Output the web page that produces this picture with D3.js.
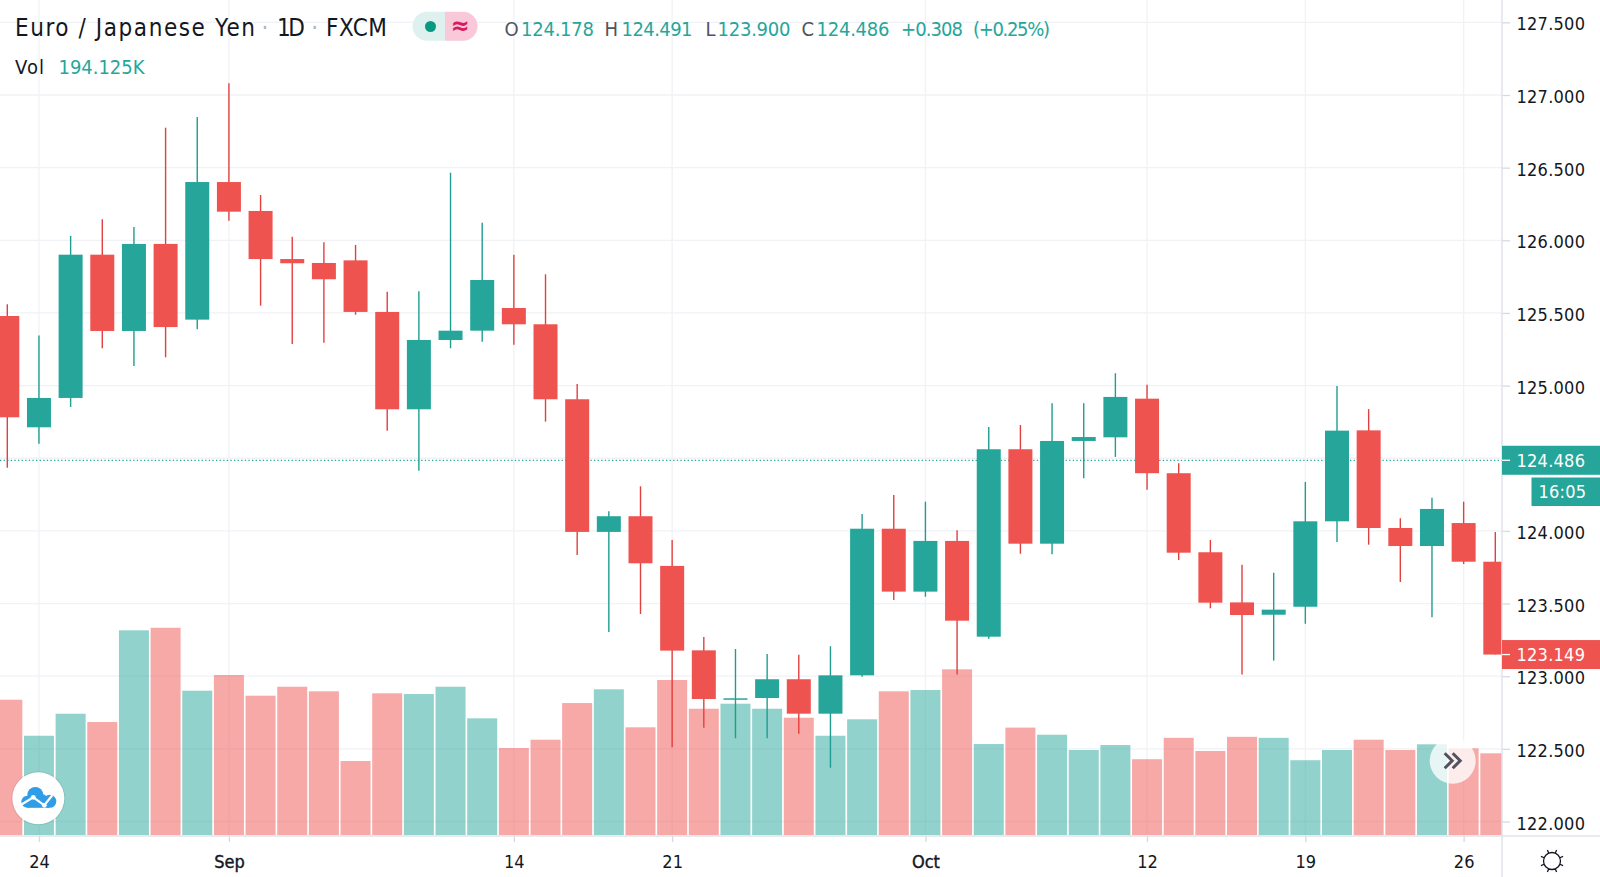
<!DOCTYPE html>
<html>
<head>
<meta charset="utf-8">
<script src="https://cdn.jsdelivr.net/npm/d3@7"></script>
<style>
  html, body { margin: 0; background: #fff; }
  svg { display: block; font-family: "DejaVu Sans Condensed", "DejaVu Sans", sans-serif; font-stretch: condensed; }
</style>
</head>
<body>
<svg id="chart"></svg>
<script>
// daily EUR/JPY candles, Aug 21 -> Oct 27
const opens = [125.479,124.713,124.915,125.901,125.376,125.975,125.454,126.401,126.202,125.871,125.844,125.862,125.507,124.837,125.314,125.378,125.534,125.422,124.906,123.993,124.101,123.759,123.178,122.841,122.850,122.979,122.742,123.006,124.015,123.582,123.931,123.272,124.562,123.912,124.619,124.644,124.910,124.397,123.853,123.508,123.423,123.478,124.066,124.692,124.020,123.896,124.054,123.788];
const highs = [125.560,125.344,126.030,126.145,126.092,126.775,126.849,127.081,126.312,126.025,125.986,125.968,125.646,125.649,126.465,126.121,125.901,125.766,125.011,124.135,124.307,123.938,123.270,123.187,123.153,123.148,123.206,124.116,124.247,124.201,124.004,124.715,124.729,124.878,124.878,125.085,125.006,124.465,123.938,123.767,123.712,124.337,124.997,124.838,124.087,124.229,124.201,123.993];
const lows = [124.435,124.600,124.853,125.257,125.135,125.195,125.388,126.135,125.550,125.286,125.295,125.488,124.690,124.414,125.257,125.302,125.282,124.752,123.834,123.304,123.428,122.511,122.646,122.573,122.573,122.604,122.370,122.997,123.525,123.547,123.011,123.258,123.843,123.839,124.362,124.509,124.284,123.800,123.467,123.012,123.107,123.361,123.924,123.905,123.648,123.405,123.772,123.149];
const closes = [124.782,124.915,125.901,125.376,125.975,125.403,126.401,126.197,125.871,125.842,125.732,125.507,124.837,125.314,125.378,125.727,125.422,124.906,123.993,124.101,123.777,123.176,122.843,122.848,122.979,122.742,123.006,124.015,123.582,123.931,123.382,124.562,123.912,124.619,124.646,124.922,124.397,123.850,123.506,123.421,123.458,124.066,124.690,124.020,123.896,124.151,123.788,123.149];
const volumes = [321.5,235.9,288.2,268.5,486.4,492.5,342.9,380.2,331,352.4,341.4,175.8,336.7,335,352.4,277.3,206.7,226.4,313.6,346.2,255.9,368.3,300.1,312,300.1,278.7,235.9,274.9,341.4,344.5,393.7,216.2,255.2,238.3,202,213.8,180.1,230.9,199.6,233.3,230.9,177.7,202,226.4,202,215.5,206,194.125];

const priceTicks = [122,122.5,123,123.5,124,124.5,125,125.5,126,126.5,127,127.5];
const timeTickIdx = [1,7,16,21,29,36,41,46];
const timeTickLabels = ['24','Sep','14','21','Oct','12','19','26'];
const lastPrice = 124.486;
const lastClose = 123.149;

const GREEN = '#26a69a', RED = '#ef5350';
const FONT = '"DejaVu Sans Condensed", "DejaVu Sans", sans-serif';
const width = 1600, height = 877, axisX = 1502, axisY = 836;

const svg = d3.select('#chart').attr('width', width).attr('height', height);

const x = d3.scaleLinear().domain([0, 47]).range([7.3, 1495.3]);
const y = d3.scaleLinear().domain([122, 127]).range([821.5, 95]);
const yVol = d3.scaleLinear().domain([0, 500]).range([835, 624.6]);

svg.append('clipPath').attr('id', 'plot').append('rect')
  .attr('width', axisX).attr('height', axisY);

const plot = svg.append('g').attr('clip-path', 'url(#plot)');

// grid
plot.selectAll('.hgrid').data(priceTicks).enter().append('line')
  .attr('x1', 0).attr('x2', axisX)
  .attr('y1', d => y(d)).attr('y2', d => y(d))
  .attr('stroke', '#f0f2f6').attr('stroke-width', 1.3);
plot.selectAll('.vgrid').data(timeTickIdx).enter().append('line')
  .attr('x1', d => x(d)).attr('x2', d => x(d))
  .attr('y1', 0).attr('y2', axisY)
  .attr('stroke', '#f0f2f6').attr('stroke-width', 1.3);

const isUp = i => closes[i] >= opens[i];

// volume
plot.selectAll('.vol').data(volumes).enter().append('rect')
  .attr('x', (d, i) => x(i) - 15)
  .attr('width', 30)
  .attr('y', d => yVol(d))
  .attr('height', d => yVol(0) - yVol(d))
  .attr('fill', (d, i) => isUp(i) ? GREEN : RED)
  .attr('fill-opacity', 0.5);

// last price line
plot.append('line')
  .attr('x1', 0).attr('x2', axisX)
  .attr('y1', y(lastPrice)).attr('y2', y(lastPrice))
  .attr('stroke', GREEN).attr('stroke-width', 1.3)
  .attr('stroke-dasharray', '1.3 2.3');

// candles
const candles = plot.selectAll('.candle').data(opens).enter().append('g');
candles.append('line')
  .attr('x1', (d, i) => x(i)).attr('x2', (d, i) => x(i))
  .attr('y1', (d, i) => y(highs[i])).attr('y2', (d, i) => y(lows[i]))
  .attr('stroke', (d, i) => isUp(i) ? '#1f9d91' : '#e2403f')
  .attr('stroke-width', 1.4);
candles.append('rect')
  .attr('x', (d, i) => x(i) - 12)
  .attr('width', 24)
  .attr('y', (d, i) => y(Math.max(opens[i], closes[i])))
  .attr('height', (d, i) => Math.max(1.5, Math.abs(y(opens[i]) - y(closes[i]))))
  .attr('fill', (d, i) => isUp(i) ? GREEN : RED);

// axes
const yAxis = svg.append('g').attr('transform', `translate(${axisX},0)`)
  .call(d3.axisRight(y).tickValues(priceTicks).tickFormat(d3.format('.3f')).tickSize(8).tickPadding(6.5));
const xAxis = svg.append('g').attr('transform', `translate(0,${axisY})`)
  .call(d3.axisBottom(x).tickValues(timeTickIdx).tickFormat((d, i) => timeTickLabels[i]).tickSize(6).tickPadding(13));
[yAxis, xAxis].forEach(a => {
  a.select('.domain').remove();
  a.selectAll('.tick line').attr('stroke', '#d6d9e0').attr('stroke-width', 1.3);
  a.selectAll('.tick text').attr('fill', '#131722').attr('font-size', 18).attr('font-family', FONT);
});
yAxis.selectAll('.tick text').attr('dy', '.42em').attr('letter-spacing', 0.25);
// month names are a bit heavier than the day numbers
xAxis.selectAll('.tick text').filter((d, i) => isNaN(+timeTickLabels[i]))
  .attr('stroke', '#131722').attr('stroke-width', 0.4);

svg.append('line').attr('x1', 0).attr('x2', width).attr('y1', axisY).attr('y2', axisY)
  .attr('stroke', '#e0e3eb').attr('stroke-width', 1.5);
svg.append('line').attr('x1', axisX).attr('x2', axisX).attr('y1', 0).attr('y2', height)
  .attr('stroke', '#e0e3eb').attr('stroke-width', 1.5);

// price badges
function badge(price, color) {
  const g = svg.append('g').attr('transform', `translate(${axisX},${y(price)})`);
  g.append('rect').attr('y', -14.5).attr('width', width - axisX).attr('height', 29).attr('fill', color);
  g.append('line').attr('x2', 8).attr('stroke', '#fff').attr('stroke-width', 1.3);
  g.append('text').attr('x', 14.5).attr('dy', '.38em').attr('fill', '#fff').attr('font-size', 18)
    .attr('letter-spacing', 0.25).text(d3.format('.3f')(price));
}
badge(lastPrice, GREEN);
badge(lastClose, RED);
svg.append('rect').attr('x', 1531.5).attr('y', 477.5).attr('width', 68.5).attr('height', 28.5).attr('fill', GREEN);
svg.append('text').attr('x', 1538.5).attr('y', 498).attr('fill', '#fff').attr('font-size', 18)
  .attr('letter-spacing', 0.25).text('16:05');

// header
function txt(str, px, py, size, color, len) {
  const t = svg.append('text').attr('x', px).attr('y', py).attr('font-size', size).attr('fill', color).text(str);
  if (len) t.attr('textLength', len).attr('lengthAdjust', 'spacing');
  return t;
}
const INK = '#131722', MUTED = '#50535e';
txt('Euro / Japanese Yen', 15, 35.5, 24, INK, 240);
txt('·', 265, 35.5, 24, '#b2b5be').attr('text-anchor', 'middle');
txt('1D', 277, 35.5, 24, INK, 28);
txt('·', 314.6, 35.5, 24, '#b2b5be').attr('text-anchor', 'middle');
txt('FXCM', 326, 35.5, 24, INK, 61);
txt('Vol', 15, 73.5, 20, INK, 29);
txt('194.125K', 58.5, 73.5, 20, GREEN, 86);
txt('O', 504.5, 35.5, 20, MUTED);
txt('124.178', 521, 35.5, 20, GREEN, 73);
txt('H', 604.5, 35.5, 20, MUTED);
txt('124.491', 621.5, 35.5, 20, GREEN, 71);
txt('L', 705.5, 35.5, 20, MUTED);
txt('123.900', 717.5, 35.5, 20, GREEN, 73);
txt('C', 801.5, 35.5, 20, MUTED);
txt('124.486', 816.5, 35.5, 20, GREEN, 73);
txt('+0.308', 901, 35.5, 20, GREEN, 62);
txt('(+0.25%)', 973, 35.5, 20, GREEN, 77);

// status pill
svg.append('path').attr('d', 'M445 11.7H427a14.5 14.5 0 0 0 0 29H445Z').attr('fill', '#dff1ef');
svg.append('path').attr('d', 'M445 11.7H463a14.5 14.5 0 0 1 0 29H445Z').attr('fill', '#f9c9da');
svg.append('circle').attr('cx', 430.5).attr('cy', 26.5).attr('r', 5.5).attr('fill', '#089981');
txt('≈', 460.5, 34, 25, '#d81b60').attr('text-anchor', 'middle').attr('font-weight', 700);

// logo button
const logo = svg.append('g').attr('transform', 'translate(38.3,798.3)');
logo.append('circle').attr('r', 27).attr('fill', '#000').attr('fill-opacity', 0.08);
logo.append('circle').attr('r', 26).attr('fill', '#fff');
const cloud = logo.append('g').attr('fill', '#2f9de8');
cloud.append('circle').attr('cx', -11).attr('cy', 3.5).attr('r', 6);
cloud.append('circle').attr('cx', -3).attr('cy', -3.3).attr('r', 8);
cloud.append('circle').attr('cx', 4).attr('cy', 1).attr('r', 5);
cloud.append('circle').attr('cx', 11.5).attr('cy', 3).attr('r', 6.5);
cloud.append('rect').attr('x', -11).attr('y', 2).attr('width', 22).attr('height', 7.5);
logo.append('path').attr('d', 'M-18 7L-5 -1L6 7L14 -3')
  .attr('fill', 'none').attr('stroke', '#fff').attr('stroke-width', 2.2);
logo.append('circle').attr('cx', -5).attr('cy', -1).attr('r', 2.4).attr('fill', '#fff');
logo.append('circle').attr('cx', 6).attr('cy', 7).attr('r', 2.4).attr('fill', '#fff');

// scroll to latest button
const more = svg.append('g').attr('transform', 'translate(1452.7,760.7)');
more.append('circle').attr('r', 23).attr('fill', '#fff').attr('fill-opacity', 0.78);
more.append('path').attr('d', 'M-8 -7.5L-0.5 0L-8 7.5M0 -7.5L7.5 0L0 7.5')
  .attr('fill', 'none').attr('stroke', '#50535e').attr('stroke-width', 3);

// theme icon
const sun = svg.append('g').attr('transform', 'translate(1552,861)')
  .attr('fill', 'none').attr('stroke', '#131722').attr('stroke-width', 1.3);
sun.append('circle').attr('r', 8.5);
d3.range(8).forEach(k => {
  const a = (k + 0.5) * Math.PI / 4;
  sun.append('line')
    .attr('x1', 8.5 * Math.cos(a)).attr('y1', 8.5 * Math.sin(a))
    .attr('x2', 12 * Math.cos(a)).attr('y2', 12 * Math.sin(a));
});
</script>
</body>
</html>
